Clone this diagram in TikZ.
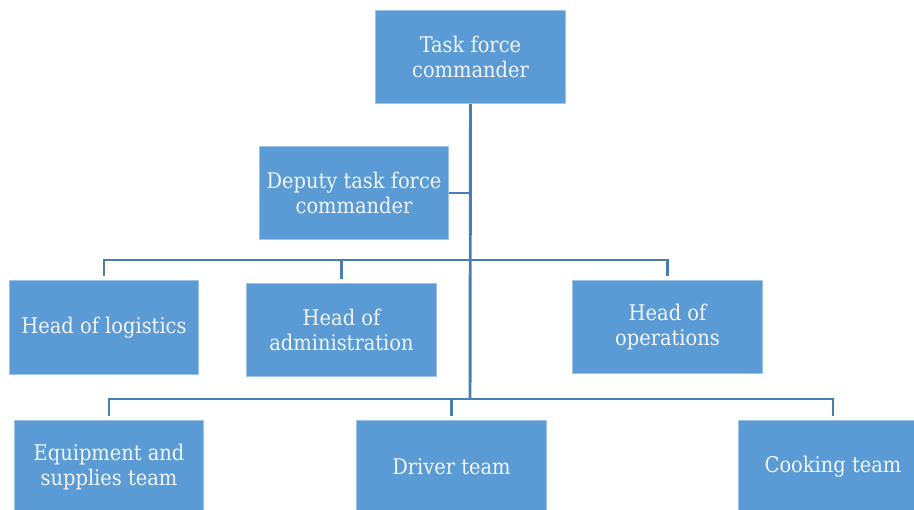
\documentclass[tikz,border=0pt]{standalone}
\usepackage{fontspec}
\setmainfont{DejaVu Serif Condensed}
\definecolor{boxfill}{HTML}{5B9BD5}
\definecolor{boxline}{HTML}{9DC3E6}
\definecolor{conn}{HTML}{4A7EB0}
\definecolor{txt}{HTML}{F2F6FB}
\begin{document}
\begin{tikzpicture}[x=0.75pt,y=-0.75pt,
  orgbox/.style={rectangle,fill=boxfill,draw=boxline,line width=0.6pt,
    minimum width=142pt,minimum height=70pt,inner sep=1pt,
    text=txt,align=center,font=\fontsize{16.2}{18.75}\selectfont},
  link/.style={draw=conn,line width=2.2pt}]
\useasboundingbox (0,0) rectangle (914,510);
\clip (0,0) rectangle (914,510);
\node[orgbox] (task) at (470.5,57) {Task force\\commander};
\node[orgbox] (deputy) at (354,193) {Deputy task force\\commander};
\node[orgbox] (log) at (104,327.5) {Head of logistics};
\node[orgbox] (adm) at (341.5,330) {Head of\\administration};
\node[orgbox] (ops) at (667.5,327) {Head of\\operations};
\node[orgbox] (equip) at (109,467) {Equipment and\\supplies team};
\node[orgbox] (driver) at (451.5,467) {Driver team};
\node[orgbox] (cook) at (833,467) {Cooking team};
\coordinate (tb) at (470,399);
\coordinate (d1) at (470,193);
\coordinate (l1) at (104,260);
\coordinate (a1) at (341.5,260);
\coordinate (o1) at (667.5,260);
\coordinate (e2) at (109,399);
\coordinate (r2) at (451.5,399);
\coordinate (c2) at (833,399);
\draw[link] (task.south) -- (tb);
\draw[link] (deputy.east) -- (d1);
\draw[link,line cap=rect] (l1) -- (o1);
\draw[link] (l1) -- ([yshift=3pt]log.north);
\draw[link] (a1) -- ([yshift=3pt]adm.north);
\draw[link] (o1) -- ([yshift=3pt]ops.north);
\draw[link,line cap=rect] (e2) -- (c2);
\draw[link] (e2) -- ([yshift=3pt]equip.north);
\draw[link] (r2) -- ([yshift=3pt]driver.north);
\draw[link] (c2) -- ([yshift=3pt]cook.north);
\end{tikzpicture}
\end{document}
